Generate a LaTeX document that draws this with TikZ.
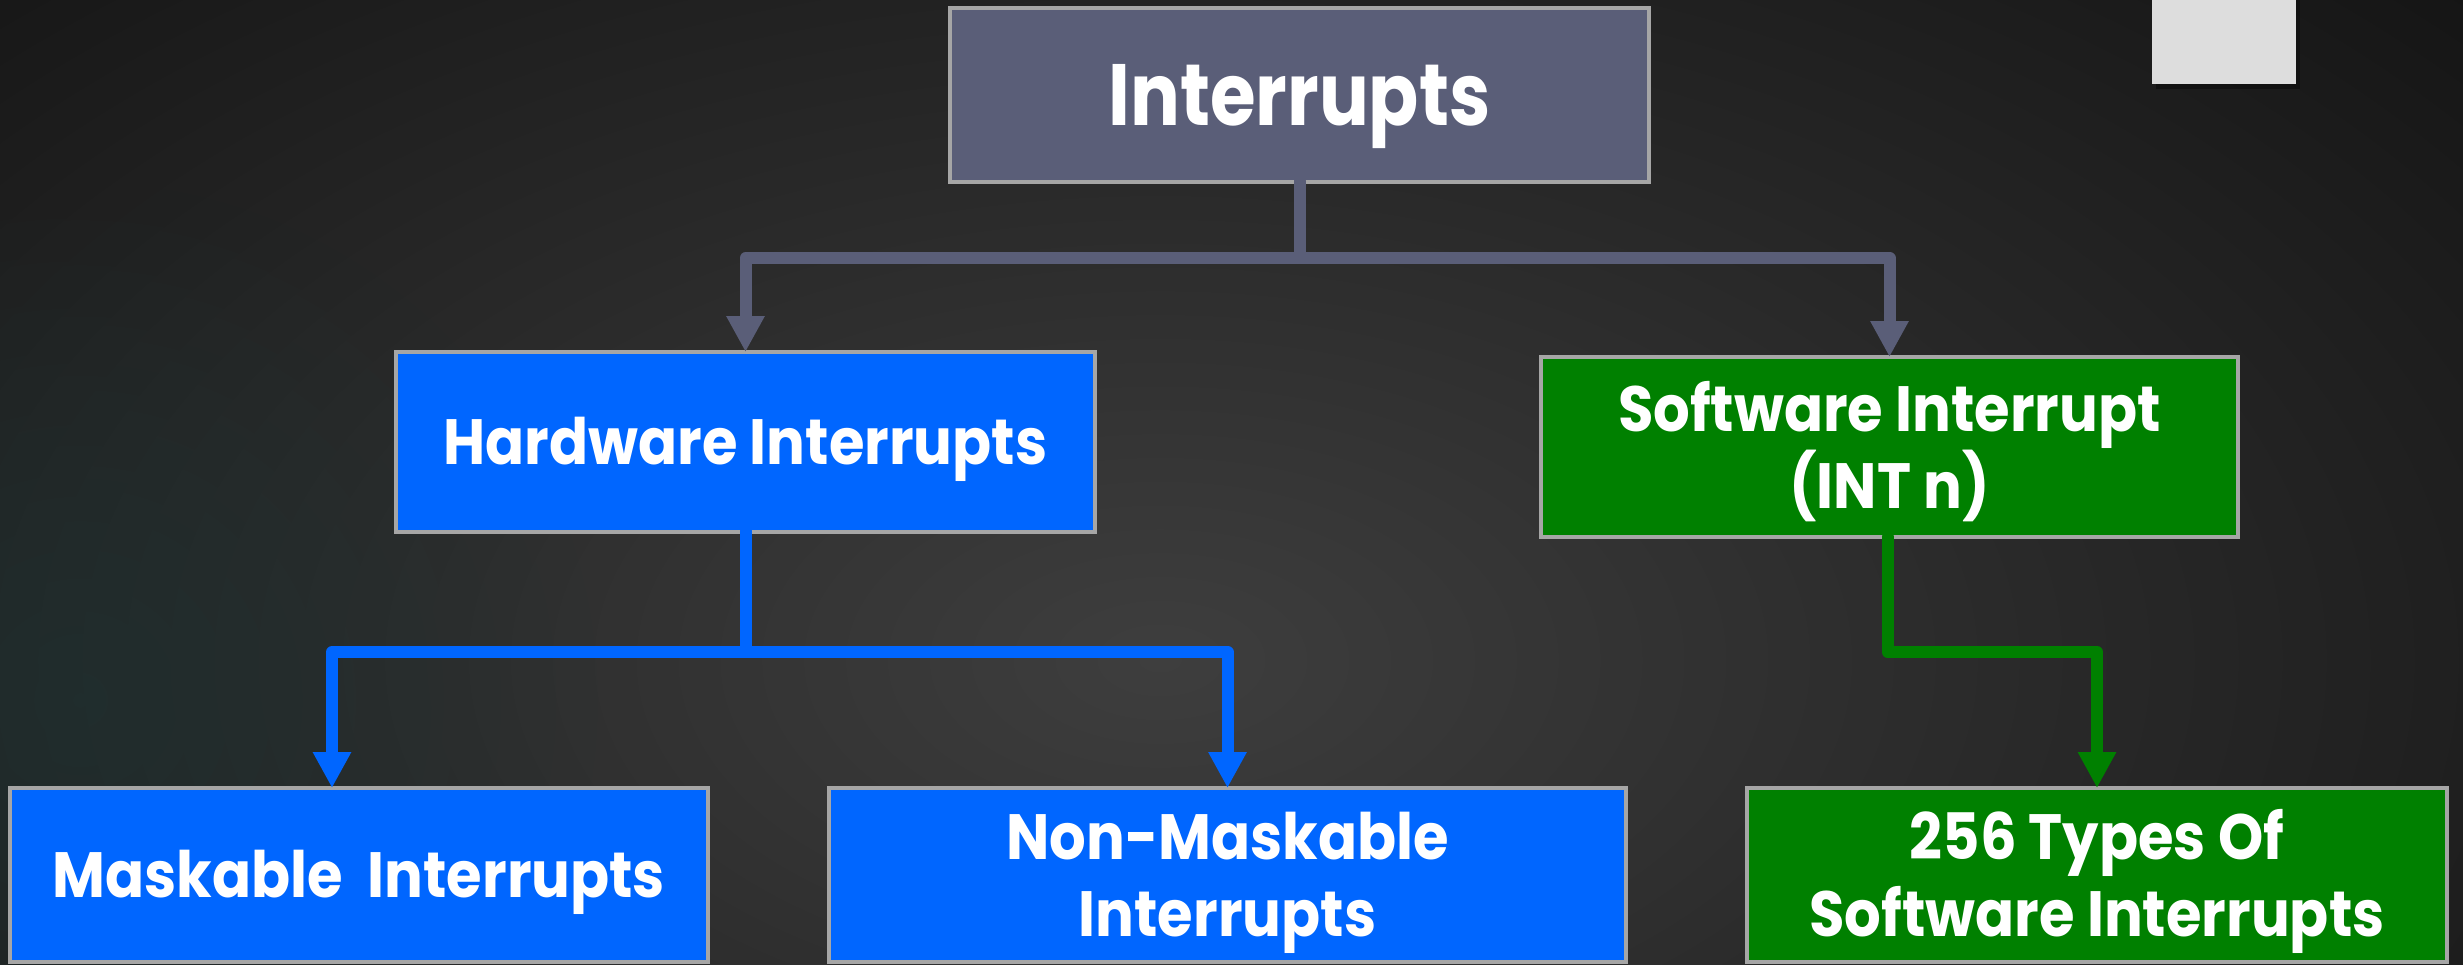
\documentclass[tikz,border=0pt]{standalone}
\usepackage{fontspec}
\setmainfont{Poppins}[FakeStretch=0.9]
\newfontfamily\rootfont{Poppins}[FakeStretch=0.85]
\usetikzlibrary{arrows.meta,fadings}

\definecolor{bgbase}{HTML}{0B0B0B}
\definecolor{glowc}{HTML}{3E3E3E}
\definecolor{glowm}{HTML}{292929}
\definecolor{glowo}{HTML}{0B0B0B}
\definecolor{tealglow}{HTML}{1F3131}
\definecolor{rootfill}{HTML}{5A5E78}
\definecolor{hwblue}{HTML}{0066FF}
\definecolor{swgreen}{HTML}{008000}
\definecolor{boxedge}{HTML}{A6A6A6}
\definecolor{cornergrey}{HTML}{DDDDDD}

\pgfdeclareradialshading{bgglow}{\pgfpointorigin}{%
  color(0bp)=(glowc); color(10bp)=(glowm); color(25bp)=(glowo); color(50bp)=(glowo)}
\tikzfading[name=softspot, inner color=transparent!0, outer color=transparent!100]

\begin{document}
\begin{tikzpicture}[x=1pt,y=-1pt,
  box/.style={draw=boxedge, line width=4pt, outer sep=0pt, inner sep=0pt,
    text=white, align=center,
    font=\bfseries\fontsize{64}{77}\selectfont,
    text height=45pt, text depth=0pt},
  rootbox/.style={box, fill=rootfill, minimum width=699pt, minimum height=174pt,
    font=\rootfont\bfseries\fontsize{87}{100}\selectfont, text height=61pt},
  hwbox/.style={box, fill=hwblue},
  swbox/.style={box, fill=swgreen},
  twolines/.style={text height=122pt},
  link/.style={line width=12pt, line cap=round, line join=round,
    -{Triangle[width=36pt,length=36pt]}},
]
% backdrop: dark slate with a soft central glow and a teal haze at lower left
\useasboundingbox (0,0) rectangle (2463,964);
\fill[bgbase] (0,0) rectangle (2463,964);
\begin{scope}
  \clip (0,0) rectangle (2463,964);
  \shade[shading=bgglow] (1160-2200,660-1250) rectangle (1160+2200,660+1250);
  \fill[tealglow, path fading=softspot, fill opacity=0.7] (80,700) circle (520);
\end{scope}

% corner tab
\fill[black, opacity=0.35] (2156,0) rectangle (2300,89);
\node[fill=cornergrey, minimum width=144pt, minimum height=84pt, inner sep=0pt,
  outer sep=0pt] (corner) at (2224,42) {};

% boxes
\node[rootbox] (root) at (1299.5,95) {Interrupts};
\node[hwbox, minimum width=699pt, minimum height=180pt] (hw) at (745.5,442)
  {Hardware Interrupts};
\node[swbox, twolines, minimum width=697pt, minimum height=180pt] (sw) at (1889.5,447)
  {Software Interrupt\\(INT n)};
\node[hwbox, minimum width=698pt, minimum height=174pt] (mask) at (359,875)
  {Maskable\ \ Interrupts};
\node[hwbox, twolines, minimum width=797pt, minimum height=174pt] (nm) at (1227.5,875)
  {Non-Maskable\\Interrupts};
\node[swbox, twolines, minimum width=700pt, minimum height=174pt] (types) at (2097,875)
  {256 Types Of\\Software Interrupts};

% connectors
\draw[link, rootfill] (root.south) -- (root.south |- 0,258) -| (hw.north);
\draw[link, rootfill] (root.south) -- (root.south |- 0,258) -| (sw.north);
\draw[link, hwblue] (hw.south) -- (hw.south |- 0,652) -| ([xshift=-27pt]mask.north);
\draw[link, hwblue] (hw.south) -- (hw.south |- 0,652) -| (nm.north);
\draw[link, swgreen] ([xshift=-2pt]sw.south) -- ([xshift=-2pt]sw.south |- 0,652) -| (types.north);
\end{tikzpicture}
\end{document}
